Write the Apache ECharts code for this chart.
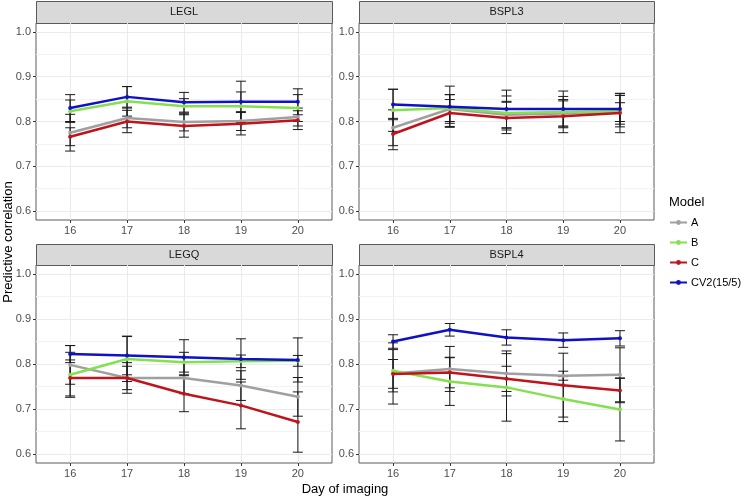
<!DOCTYPE html>
<html><head><meta charset="utf-8">
<script src="https://cdn.jsdelivr.net/npm/echarts@6/dist/echarts.min.js"></script>
<style>html,body{margin:0;padding:0;background:#fff}#c{width:744px;height:498px}</style>
</head><body><div id="c"></div>
<script>
// ---- data ----
const days = [16, 17, 18, 19, 20];
const models = ['A', 'B', 'C', 'CV2(15/5)'];
const panels = ['LEGL', 'BSPL3', 'LEGQ', 'BSPL4'];
const yTicks = [0.6, 0.7, 0.8, 0.9, 1.0];
const yMinor = [0.65, 0.75, 0.85, 0.95];

// LEGL
const legl_A = [0.775, 0.808, 0.799, 0.801, 0.810];
const legl_A_err = [0.041, 0.022, 0.020, 0.021, 0.020];
const legl_B = [0.823, 0.845, 0.834, 0.834, 0.830];
const legl_B_err = [0.025, 0.033, 0.017, 0.032, 0.030];
const legl_C = [0.766, 0.800, 0.790, 0.795, 0.803];
const legl_C_err = [0.020, 0.025, 0.025, 0.025, 0.021];
const legl_CV2 = [0.830, 0.855, 0.843, 0.844, 0.844];
const legl_CV2_err = [0.030, 0.023, 0.022, 0.046, 0.029];
// BSPL3
const bspl3_A = [0.786, 0.828, 0.815, 0.818, 0.821];
const bspl3_A_err = [0.040, 0.032, 0.030, 0.028, 0.021];
const bspl3_B = [0.825, 0.830, 0.819, 0.821, 0.823];
const bspl3_B_err = [0.047, 0.030, 0.038, 0.035, 0.035];
const bspl3_C = [0.772, 0.819, 0.808, 0.812, 0.819];
const bspl3_C_err = [0.035, 0.030, 0.035, 0.037, 0.044];
const bspl3_CV2 = [0.838, 0.833, 0.828, 0.828, 0.828];
const bspl3_CV2_err = [0.034, 0.046, 0.042, 0.040, 0.034];
// LEGQ
const legq_A = [0.798, 0.769, 0.769, 0.752, 0.727];
const legq_A_err = [0.043, 0.034, 0.035, 0.033, 0.043];
const legq_B = [0.776, 0.811, 0.804, 0.806, 0.807];
const legq_B_err = [0.050, 0.050, 0.022, 0.014, 0.012];
const legq_C = [0.769, 0.769, 0.734, 0.708, 0.671];
const legq_C_err = [0.040, 0.026, 0.040, 0.052, 0.067];
const legq_CV2 = [0.822, 0.819, 0.815, 0.811, 0.809];
const legq_CV2_err = [0.019, 0.043, 0.039, 0.045, 0.049];
// BSPL4
const bspl4_A = [0.779, 0.789, 0.779, 0.774, 0.776];
const bspl4_A_err = [0.068, 0.050, 0.050, 0.010, 0.060];
const bspl4_B = [0.785, 0.761, 0.748, 0.722, 0.699];
const bspl4_B_err = [0.047, 0.053, 0.075, 0.050, 0.070];
const bspl4_C = [0.778, 0.781, 0.767, 0.753, 0.741];
const bspl4_C_err = [0.032, 0.034, 0.028, 0.071, 0.027];
const bspl4_CV2 = [0.850, 0.876, 0.859, 0.853, 0.857];
const bspl4_CV2_err = [0.015, 0.014, 0.017, 0.016, 0.017];

const panelData = [
  [[legl_A, legl_A_err], [legl_B, legl_B_err], [legl_C, legl_C_err], [legl_CV2, legl_CV2_err]],
  [[bspl3_A, bspl3_A_err], [bspl3_B, bspl3_B_err], [bspl3_C, bspl3_C_err], [bspl3_CV2, bspl3_CV2_err]],
  [[legq_A, legq_A_err], [legq_B, legq_B_err], [legq_C, legq_C_err], [legq_CV2, legq_CV2_err]],
  [[bspl4_A, bspl4_A_err], [bspl4_B, bspl4_B_err], [bspl4_C, bspl4_C_err], [bspl4_CV2, bspl4_CV2_err]]
];

// ---- style / layout ----
const colors = ['#A0A0A0', '#84E050', '#C0141C', '#1010C4'];
const FONT = 'Arial, "Liberation Sans", sans-serif';
const boxes = [
  {left: 36, top: 23, width: 296, height: 197, stripTop: 1},
  {left: 359, top: 23, width: 295, height: 197, stripTop: 1},
  {left: 36, top: 265, width: 296, height: 198, stripTop: 244},
  {left: 359, top: 265, width: 295, height: 198, stripTop: 244}
];

const grid = [], xAxis = [], yAxis = [], series = [], graphic = [];
boxes.forEach((b, i) => {
  grid.push({left: b.left, top: b.top, width: b.width, height: b.height, show: true,
    borderColor: '#5a5a5a', borderWidth: 1, backgroundColor: '#fff'});
  xAxis.push({type: 'value', gridIndex: i, min: 15.4, max: 20.6,
    axisLine: {show: false},
    axisTick: {show: true, length: 3, lineStyle: {color: '#333'}, customValues: days},
    axisLabel: {color: '#4D4D4D', fontSize: 11, fontFamily: FONT, margin: 5, customValues: days,
      formatter: v => String(v)},
    splitLine: {show: true, lineStyle: {color: '#EBEBEB', width: 1}}
  });
  yAxis.push({type: 'value', gridIndex: i, min: 0.58, max: 1.02,
    axisLine: {show: false},
    axisTick: {show: true, length: 3, lineStyle: {color: '#333'}, customValues: yTicks},
    axisLabel: {color: '#4D4D4D', fontSize: 11, fontFamily: FONT, margin: 5, customValues: yTicks,
      formatter: v => v.toFixed(1)},
    splitLine: {show: true, lineStyle: {color: '#EBEBEB', width: 1}}
  });
  // minor grid lines
  series.push({type: 'line', xAxisIndex: i, yAxisIndex: i, data: [], silent: true,
    markLine: {silent: true, symbol: 'none', animation: false, z: 0, label: {show: false},
      lineStyle: {color: '#F3F3F3', width: 1, type: 'solid'},
      data: yMinor.map(v => ({yAxis: v}))}});
  // error bars
  models.forEach((m, k) => {
    const [mean, err] = panelData[i][k];
    series.push({type: 'custom', name: 'err_' + i + '_' + k, xAxisIndex: i, yAxisIndex: i, z: 2,
      encode: {x: 0, y: [1, 2]},
      data: days.map((d, j) => [d, +(mean[j] - err[j]).toFixed(4), +(mean[j] + err[j]).toFixed(4)]),
      renderItem: (params, api) => {
        const x = api.value(0);
        const lo = api.coord([x, api.value(1)]);
        const hi = api.coord([x, api.value(2)]);
        const w = 5;
        const st = {stroke: '#1a1a1a', lineWidth: 1};
        return {type: 'group', children: [
          {type: 'line', shape: {x1: lo[0], y1: lo[1], x2: hi[0], y2: hi[1]}, style: st},
          {type: 'line', shape: {x1: lo[0] - w, y1: lo[1], x2: lo[0] + w, y2: lo[1]}, style: st},
          {type: 'line', shape: {x1: hi[0] - w, y1: hi[1], x2: hi[0] + w, y2: hi[1]}, style: st}
        ]};
      }});
  });
  // lines
  models.forEach((m, k) => {
    const [mean] = panelData[i][k];
    series.push({type: 'line', name: m, xAxisIndex: i, yAxisIndex: i, z: 3 + k,
      data: days.map((d, j) => [d, mean[j]]),
      symbol: 'circle', symbolSize: 4, showSymbol: true,
      itemStyle: {color: colors[k]}, lineStyle: {color: colors[k], width: 2.5}});
  });
  // strip
  graphic.push({type: 'rect', left: b.left, top: b.stripTop, silent: true,
    shape: {width: b.width, height: b.top - b.stripTop},
    style: {fill: '#D9D9D9', stroke: '#5a5a5a', lineWidth: 1}});
  graphic.push({type: 'text', silent: true,
    x: b.left + b.width / 2, y: b.stripTop + (b.top - b.stripTop) / 2,
    style: {text: panels[i], fill: '#1A1A1A', font: '11px ' + FONT, align: 'center', verticalAlign: 'middle'}});
});

graphic.push({type: 'text', silent: true, x: 345, y: 489,
  style: {text: 'Day of imaging', fill: '#000', font: '13px ' + FONT, align: 'center', verticalAlign: 'middle'}});
graphic.push({type: 'text', silent: true, x: 8, y: 242, rotation: Math.PI / 2,
  style: {text: 'Predictive correlation', fill: '#000', font: '13px ' + FONT, align: 'center', verticalAlign: 'middle'}});
graphic.push({type: 'text', silent: true, x: 669, y: 202,
  style: {text: 'Model', fill: '#000', font: '13px ' + FONT, align: 'left', verticalAlign: 'middle'}});

const chart = echarts.init(document.getElementById('c'), null, {renderer: 'canvas'});
chart.setOption({
  animation: false,
  backgroundColor: '#fff',
  grid, xAxis, yAxis, series, graphic,
  legend: {data: models, orient: 'vertical', left: 669, top: 217, padding: 0,
    itemWidth: 17, itemHeight: 6, itemGap: 9,
    itemStyle: {borderWidth: 0},
    textStyle: {color: '#000', fontSize: 11, fontFamily: FONT, padding: [0, 0, 0, -1]}, selectedMode: false}
});
</script></body></html>
